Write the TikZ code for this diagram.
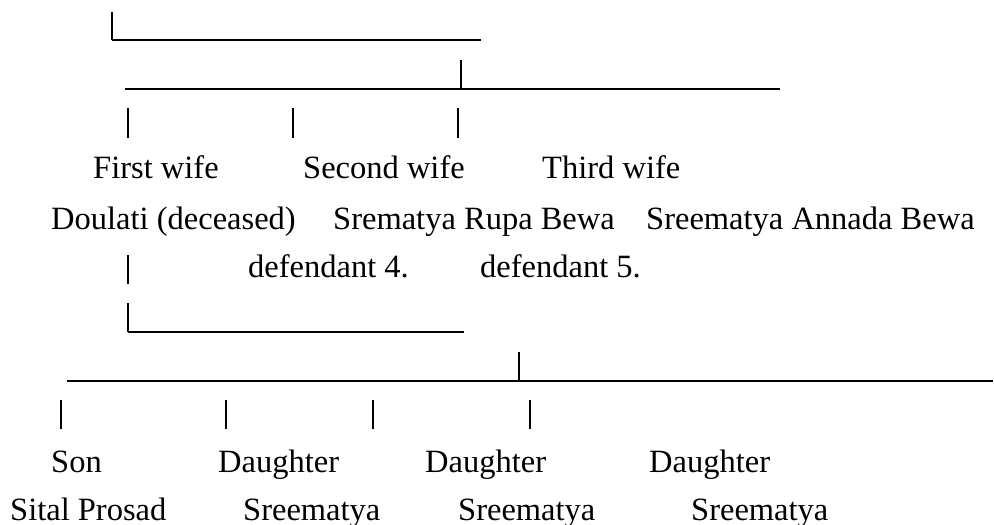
\documentclass[tikz,border=0pt]{standalone}
\usepackage{fontspec}
\setmainfont{Liberation Serif}
\usetikzlibrary{positioning}

\begin{document}
\begin{tikzpicture}[
  x=1pt, y=-1pt,
  treeText/.style={anchor=base west, inner sep=0pt, font=\fontsize{32.5}{39}\selectfont},
  stemLine/.style={draw, line width=1.5pt},
  barLine/.style={draw, line width=1.5pt},
]
\useasboundingbox (0,0) rectangle (994,525);

% --- Begin Husband Line ---
\coordinate (rootTop) at (112,12);
\coordinate (rootFoot) at (112,40);
\coordinate (rootEnd) at (481,40);
\draw[stemLine] (rootTop) -- (rootFoot);
\draw[barLine] (rootFoot) -- (rootEnd);

\coordinate (wivesLeft) at (125,89);
\coordinate (wivesTop) at (461,60);
\coordinate (wivesJoin) at (461,89);
\coordinate (wivesRight) at (780,89);
\draw[barLine] (wivesLeft) -- (wivesRight);
\draw[stemLine] (wivesTop) -- (wivesJoin);

\foreach \name/\px in {firstStem/128, secondStem/293, thirdStem/458} {
  \coordinate (\name Top) at (\px,108);
  \coordinate (\name Foot) at (\px,138);
  \draw[stemLine] (\name Top) -- (\name Foot);
}

% --- Begin Wives ---
\node[treeText] (firstWife) at (93,178.5) {First wife};
\node[treeText] (secondWife) at (303,178.5) {Second wife};
\node[treeText] (thirdWife) at (542,178.5) {Third wife};

\node[treeText] (firstName) at (51,229) {Doulati (deceased)};
\node[treeText] (secondName) at (333,229) {Srematya Rupa Bewa};
\node[treeText] (thirdName) at (646,229) {Sreematya Annada Bewa};

\node[treeText] (secondDef) at (248,277) {defendant 4.};
\node[treeText] (thirdDef) at (480,277) {defendant 5.};

% --- Begin Children Line ---
\coordinate (doulatiTop) at (128,255);
\coordinate (doulatiFoot) at (128,284);
\draw[stemLine] (doulatiTop) -- (doulatiFoot);

\coordinate (issueTop) at (128,303);
\coordinate (issueFoot) at (128,332);
\coordinate (issueEnd) at (464,332);
\draw[stemLine] (issueTop) -- (issueFoot);
\draw[barLine] (issueFoot) -- (issueEnd);

\coordinate (childLeft) at (67,381);
\coordinate (childTop) at (519,352);
\coordinate (childJoin) at (519,381);
\coordinate (childRight) at (993,381);
\draw[barLine] (childLeft) -- (childRight);
\draw[stemLine] (childTop) -- (childJoin);

\foreach \name/\px in {sonStem/61, dauStemA/226, dauStemB/373, dauStemC/530} {
  \coordinate (\name Top) at (\px,400);
  \coordinate (\name Foot) at (\px,429);
  \draw[stemLine] (\name Top) -- (\name Foot);
}

% --- Begin Children ---
\node[treeText] (son) at (51,472) {Son};
\node[treeText] (daughterA) at (218,472) {Daughter};
\node[treeText] (daughterB) at (425,472) {Daughter};
\node[treeText] (daughterC) at (649,472) {Daughter};

\node[treeText] (sonName) at (10,520) {Sital Prosad};
\node[treeText] (daughterAName) at (243,520) {Sreematya};
\node[treeText] (daughterBName) at (458,520) {Sreematya};
\node[treeText] (daughterCName) at (691,520) {Sreematya};

\end{tikzpicture}
\end{document}
